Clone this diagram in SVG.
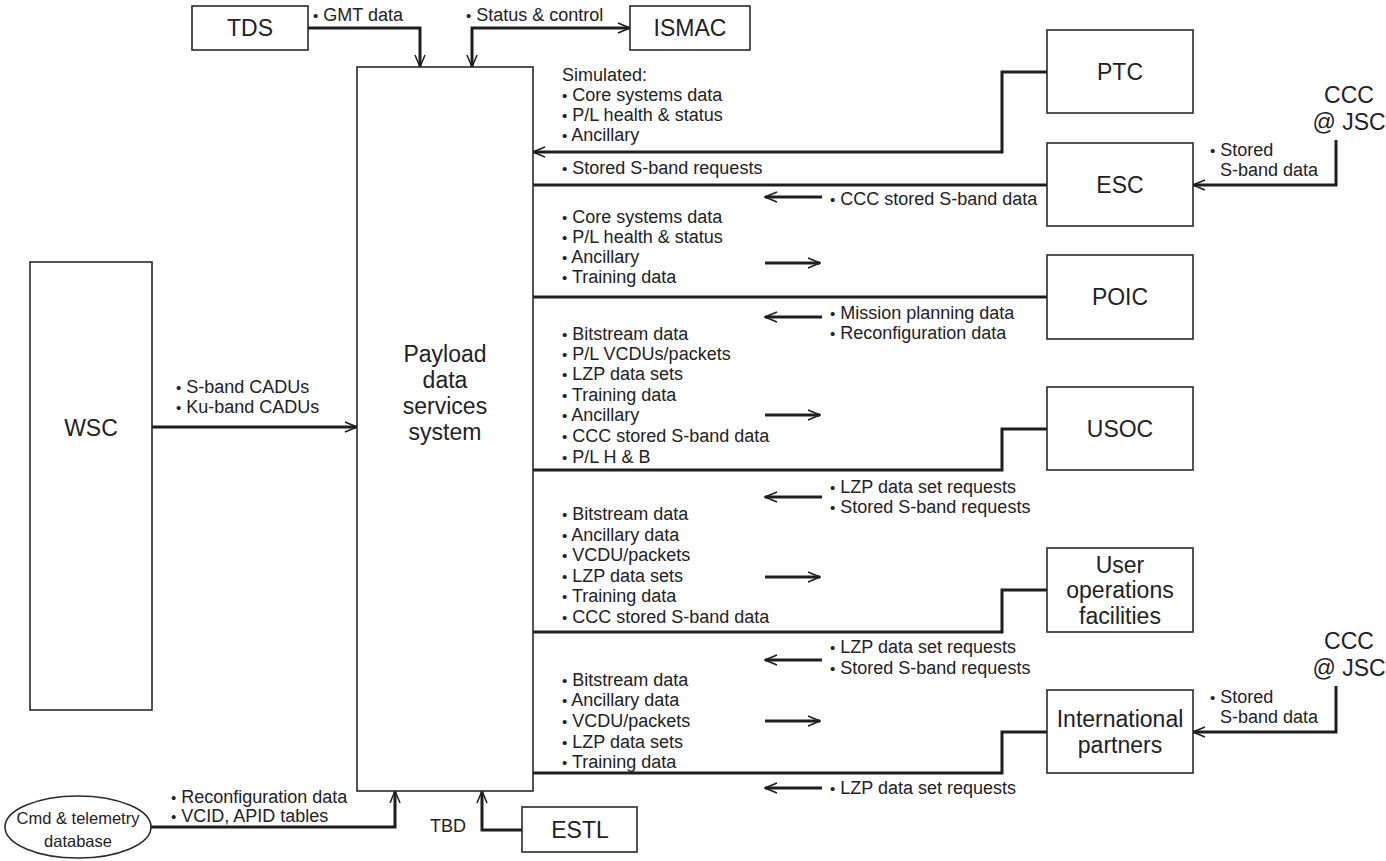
<svg xmlns="http://www.w3.org/2000/svg" width="1386" height="861" viewBox="0 0 1386 861">
  <defs>
    <style>
      .box { fill: #fff; stroke: #2a2a2a; stroke-width: 1.6; }
      .conn { fill: none; stroke: #1e1e1e; stroke-width: 3; }
      .flow { fill: none; stroke: #1e1e1e; stroke-width: 3; }
      .lbl { font-family: "Liberation Sans", Arial, sans-serif; font-size: 18px; fill: #222; }
      .b { font-size: 15px; }
      .name { font-family: "Liberation Sans", Arial, sans-serif; font-size: 23px; fill: #222; text-anchor: middle; }
      .db { font-family: "Liberation Sans", Arial, sans-serif; font-size: 16.5px; fill: #222; text-anchor: middle; }
    </style>
    <marker id="ah" viewBox="0 0 14 12" refX="13" refY="6" markerWidth="14" markerHeight="12" markerUnits="userSpaceOnUse" orient="auto-start-reverse">
      <path d="M1,1 L13,6 L1,11" fill="none" stroke="#1e1e1e" stroke-width="1.5"/>
    </marker>
  </defs>
  <rect width="1386" height="861" fill="#fff"/>

  <!-- connectors -->
  <g id="connectors">
    <path class="conn" d="M308,28 H420 V67" marker-end="url(#ah)"/>
    <path class="conn" d="M630,28 H472 V67" marker-start="url(#ah)" marker-end="url(#ah)"/>
    <path class="conn" d="M152,427 H357" marker-end="url(#ah)"/>
    <path class="conn" d="M1047,72 H1002 V152 H533" marker-end="url(#ah)"/>
    <path class="conn" d="M533,185 H1047"/>
    <path class="conn" d="M1336,140 V185 H1193" marker-end="url(#ah)"/>
    <path class="conn" d="M533,297 H1047"/>
    <path class="conn" d="M1047,429 H1002 V470 H533"/>
    <path class="conn" d="M1047,590 H1002 V632 H533"/>
    <path class="conn" d="M1047,732 H1002 V773 H533"/>
    <path class="conn" d="M1336,686 V732 H1193" marker-end="url(#ah)"/>
    <path class="conn" d="M151,827 H395 V791" marker-end="url(#ah)"/>
    <path class="conn" d="M522,830 H482 V791" marker-end="url(#ah)"/>
    <!-- direction arrows beside the data lists -->
    <path class="flow" d="M822,197 H765" marker-end="url(#ah)"/>
    <path class="flow" d="M765,263 H820" marker-end="url(#ah)"/>
    <path class="flow" d="M822,317 H765" marker-end="url(#ah)"/>
    <path class="flow" d="M765,415 H820" marker-end="url(#ah)"/>
    <path class="flow" d="M822,497 H765" marker-end="url(#ah)"/>
    <path class="flow" d="M765,577 H820" marker-end="url(#ah)"/>
    <path class="flow" d="M822,660 H765" marker-end="url(#ah)"/>
    <path class="flow" d="M765,721 H820" marker-end="url(#ah)"/>
    <path class="flow" d="M822,788 H765" marker-end="url(#ah)"/>
  </g>

  <g id="tds">
    <rect class="box" x="192" y="6" width="116" height="44"/>
    <text class="name" x="250" y="36">TDS</text>
  </g>
  <g id="ismac">
    <rect class="box" x="630" y="6" width="120" height="44"/>
    <text class="name" x="690" y="36">ISMAC</text>
  </g>
  <g id="pdss">
    <rect class="box" x="357" y="67" width="176" height="724"/>
    <text class="name" x="445" y="362">Payload</text>
    <text class="name" x="445" y="388">data</text>
    <text class="name" x="445" y="414">services</text>
    <text class="name" x="445" y="440">system</text>
  </g>
  <g id="wsc">
    <rect class="box" x="30" y="262" width="122" height="448"/>
    <text class="name" x="91" y="436">WSC</text>
  </g>
  <g id="ptc">
    <rect class="box" x="1047" y="30" width="146" height="83"/>
    <text class="name" x="1120" y="80">PTC</text>
  </g>
  <g id="esc">
    <rect class="box" x="1047" y="143" width="146" height="83"/>
    <text class="name" x="1120" y="193">ESC</text>
  </g>
  <g id="poic">
    <rect class="box" x="1047" y="255" width="146" height="84"/>
    <text class="name" x="1120" y="305">POIC</text>
  </g>
  <g id="usoc">
    <rect class="box" x="1047" y="387" width="146" height="83"/>
    <text class="name" x="1120" y="437">USOC</text>
  </g>
  <g id="uof">
    <rect class="box" x="1047" y="548" width="146" height="84"/>
    <text class="name" x="1120" y="573">User</text>
    <text class="name" x="1120" y="598">operations</text>
    <text class="name" x="1120" y="624">facilities</text>
  </g>
  <g id="ip">
    <rect class="box" x="1047" y="690" width="146" height="83"/>
    <text class="name" x="1120" y="727">International</text>
    <text class="name" x="1120" y="753">partners</text>
  </g>
  <g id="ccc-esc">
    <text class="name" x="1349" y="103">CCC</text>
    <text class="name" x="1349" y="130">@ JSC</text>
  </g>
  <g id="ccc-ip">
    <text class="name" x="1349" y="649">CCC</text>
    <text class="name" x="1349" y="676">@ JSC</text>
  </g>
  <g id="estl">
    <rect class="box" x="522" y="807" width="115" height="45"/>
    <text class="name" x="580" y="838">ESTL</text>
  </g>
  <g id="cmddb">
    <ellipse class="box" cx="78" cy="827" rx="73" ry="31"/>
    <text class="db" x="78" y="824">Cmd &amp; telemetry</text>
    <text class="db" x="78" y="847">database</text>
  </g>

  <!-- flow labels -->
  <g id="labels" class="lbl">
    <text x="313" y="21"><tspan class="b">•</tspan> GMT data</text>
    <text x="466" y="21"><tspan class="b">•</tspan> Status &amp; control</text>
    <text x="176" y="393"><tspan class="b">•</tspan> S-band CADUs</text>
    <text x="176" y="413"><tspan class="b">•</tspan> Ku-band CADUs</text>

    <text x="562" y="81">Simulated:</text>
    <text x="562" y="101"><tspan class="b">•</tspan> Core systems data</text>
    <text x="562" y="121"><tspan class="b">•</tspan> P/L health &amp; status</text>
    <text x="562" y="141"><tspan class="b">•</tspan> Ancillary</text>
    <text x="562" y="174"><tspan class="b">•</tspan> Stored S-band requests</text>
    <text x="830" y="205"><tspan class="b">•</tspan> CCC stored S-band data</text>
    <text x="1210" y="156"><tspan class="b">•</tspan> Stored</text>
    <text x="1220" y="176">S-band data</text>

    <text x="562" y="223"><tspan class="b">•</tspan> Core systems data</text>
    <text x="562" y="243"><tspan class="b">•</tspan> P/L health &amp; status</text>
    <text x="562" y="263"><tspan class="b">•</tspan> Ancillary</text>
    <text x="562" y="283"><tspan class="b">•</tspan> Training data</text>
    <text x="830" y="319"><tspan class="b">•</tspan> Mission planning data</text>
    <text x="830" y="339"><tspan class="b">•</tspan> Reconfiguration data</text>

    <text x="562" y="340"><tspan class="b">•</tspan> Bitstream data</text>
    <text x="562" y="360"><tspan class="b">•</tspan> P/L VCDUs/packets</text>
    <text x="562" y="380"><tspan class="b">•</tspan> LZP data sets</text>
    <text x="562" y="401"><tspan class="b">•</tspan> Training data</text>
    <text x="562" y="421"><tspan class="b">•</tspan> Ancillary</text>
    <text x="562" y="442"><tspan class="b">•</tspan> CCC stored S-band data</text>
    <text x="562" y="463"><tspan class="b">•</tspan> P/L H &amp; B</text>
    <text x="830" y="493"><tspan class="b">•</tspan> LZP data set requests</text>
    <text x="830" y="513"><tspan class="b">•</tspan> Stored S-band requests</text>

    <text x="562" y="520"><tspan class="b">•</tspan> Bitstream data</text>
    <text x="562" y="541"><tspan class="b">•</tspan> Ancillary data</text>
    <text x="562" y="561"><tspan class="b">•</tspan> VCDU/packets</text>
    <text x="562" y="582"><tspan class="b">•</tspan> LZP data sets</text>
    <text x="562" y="602"><tspan class="b">•</tspan> Training data</text>
    <text x="562" y="623"><tspan class="b">•</tspan> CCC stored S-band data</text>
    <text x="830" y="653"><tspan class="b">•</tspan> LZP data set requests</text>
    <text x="830" y="674"><tspan class="b">•</tspan> Stored S-band requests</text>

    <text x="562" y="686"><tspan class="b">•</tspan> Bitstream data</text>
    <text x="562" y="706"><tspan class="b">•</tspan> Ancillary data</text>
    <text x="562" y="727"><tspan class="b">•</tspan> VCDU/packets</text>
    <text x="562" y="748"><tspan class="b">•</tspan> LZP data sets</text>
    <text x="562" y="768"><tspan class="b">•</tspan> Training data</text>
    <text x="830" y="794"><tspan class="b">•</tspan> LZP data set requests</text>
    <text x="1210" y="703"><tspan class="b">•</tspan> Stored</text>
    <text x="1220" y="723">S-band data</text>

    <text x="171" y="803"><tspan class="b">•</tspan> Reconfiguration data</text>
    <text x="171" y="822"><tspan class="b">•</tspan> VCID, APID tables</text>
    <text x="466" y="832" text-anchor="end">TBD</text>
  </g>
</svg>
